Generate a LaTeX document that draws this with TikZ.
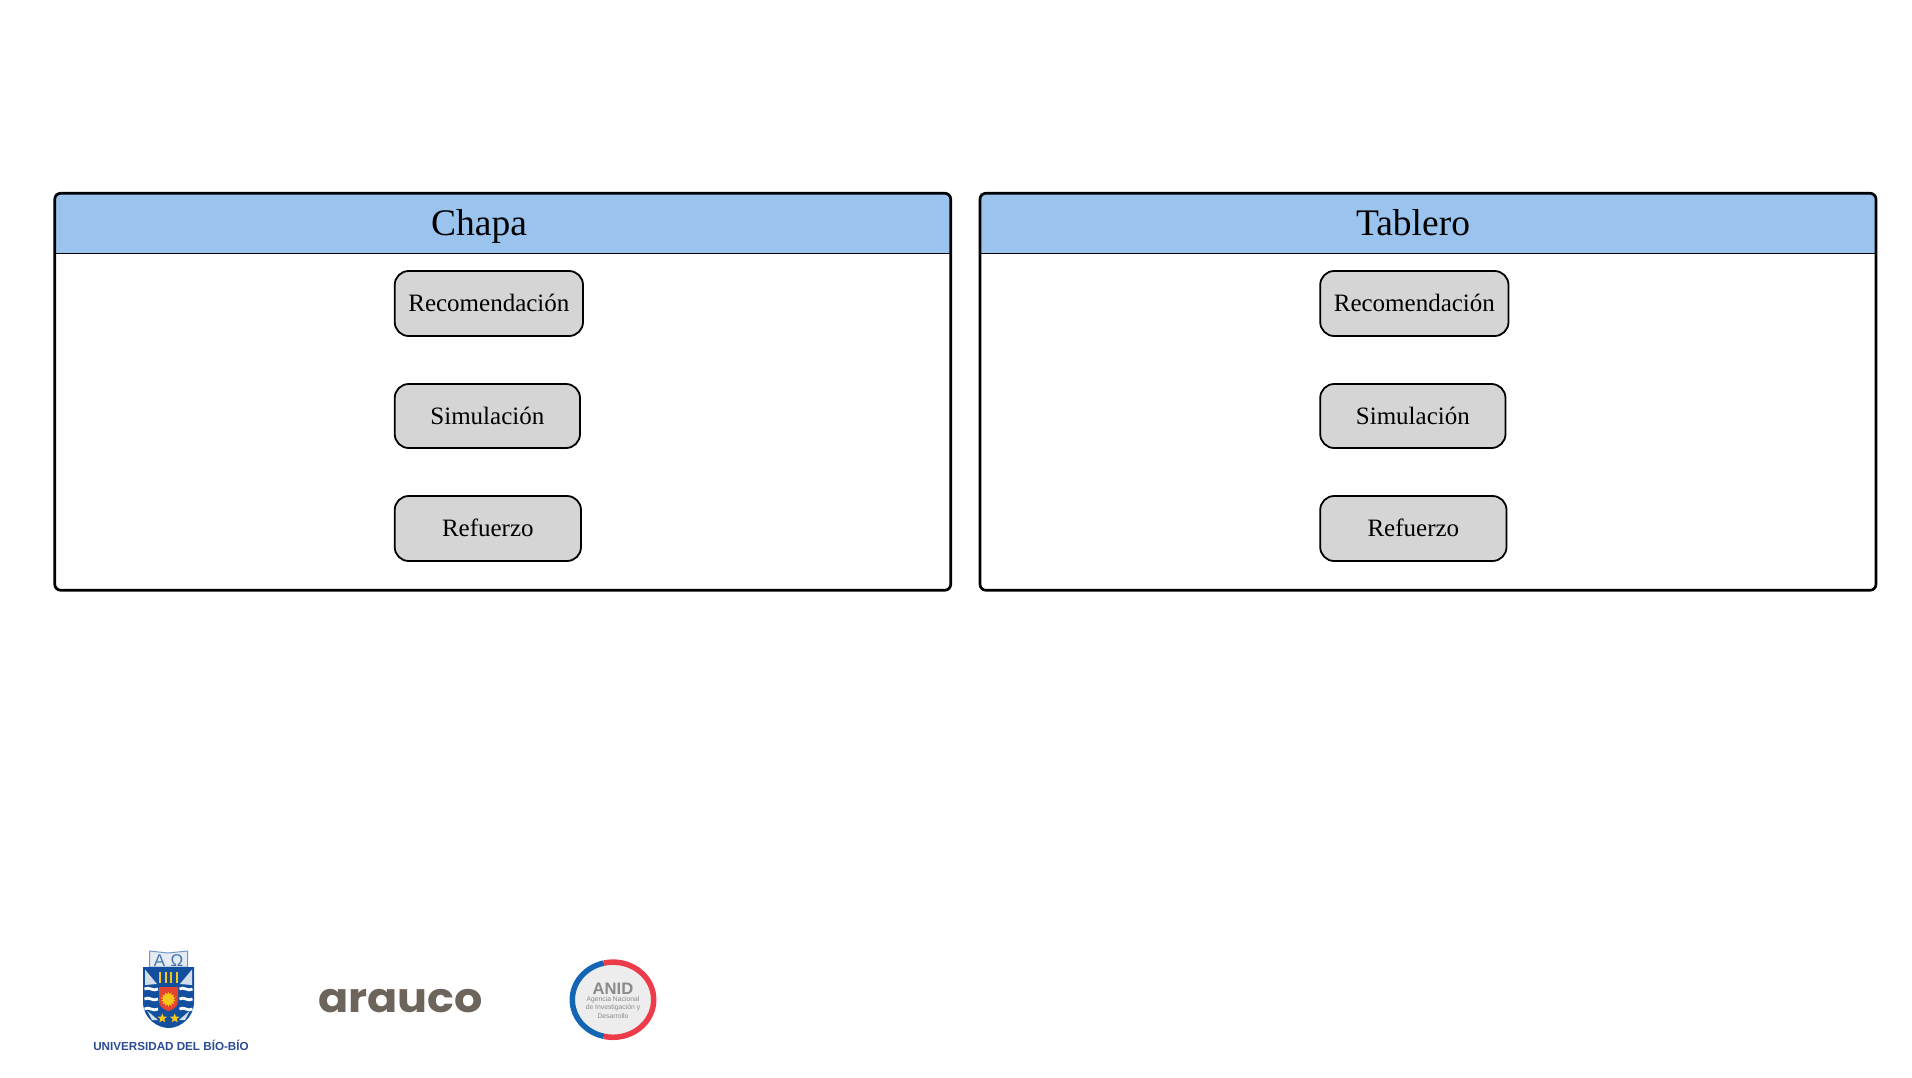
\documentclass[tikz,border=0pt]{standalone}
\usepackage{fontspec}
\setmainfont{Liberation Serif}
\newfontfamily\logofont{Liberation Sans}
\newfontfamily\araucofont{Poppins}
\usetikzlibrary{shapes.geometric,backgrounds}
\definecolor{headerblue}{HTML}{9AC3EE}
\definecolor{boxgray}{HTML}{D5D5D5}
\definecolor{ubbblue}{HTML}{12509F}
\definecolor{ubbtext}{HTML}{2B4C93}
\definecolor{ubbpale}{HTML}{D3DEE9}
\definecolor{ubbgold}{HTML}{F7C61B}
\definecolor{ubbred}{HTML}{E2452F}
\definecolor{araucogray}{HTML}{6D645C}
\definecolor{anidblue}{HTML}{1565B5}
\definecolor{anidred}{HTML}{EE3B4A}
\definecolor{anidgray}{HTML}{8A8A8A}
\tikzset{
  panel/.style={draw,line width=2.7pt,rounded corners=6pt,minimum width=896pt,minimum height=397pt,inner sep=0pt,outer sep=0pt},
  header/.style={fill=headerblue,rounded corners=6pt},
  paneltitle/.style={anchor=base,inner sep=0pt,font=\fontsize{37.5}{40}\selectfont},
  modulebox/.style={draw,fill=boxgray,line width=1.8pt,rounded corners=14pt,anchor=west,inner sep=0pt,outer sep=0pt,
    text height=16.2pt,text depth=0pt,font=\fontsize{25}{28}\selectfont},
  wave/.style={draw=white,line width=2.8pt},
  torch/.style={draw=ubbgold,line width=1.6pt},
  goldstar/.style={star,star points=5,star point ratio=2.4,fill=ubbgold,inner sep=0pt,minimum size=10pt},
  anidtext/.style={text=anidgray,inner sep=0pt,font=\logofont\fontsize{6.8}{8}\selectfont}
}
\begin{document}
\begin{tikzpicture}[x=1pt,y=-1pt]
  \useasboundingbox (0,0) rectangle (1912,1077);

  \def \Panels {
    chapa/Chapa/502.75/479/394.7,
    tablero/Tablero/1428/1413/1320.2}
  \def \Modules {
    rec/Recomendación/188.3/303.5/65,
    sim/Simulación/185.3/416/64,
    ref/Refuerzo/186.3/528.5/65}

  \foreach \id / \name / \cx / \tx / \bx in \Panels {
    \node[panel] (\id) at (\cx, 391.75) {};
    \coordinate (\id-hl) at ([yshift=-60pt]\id.north west);
    \coordinate (\id-hr) at ([yshift=-60pt]\id.north east);
    \begin{scope}[on background layer]
      \fill[header] (\id.north west) -- (\id.north east)
        [sharp corners] -- (\id-hr) -- (\id-hl) -- cycle;
    \end{scope}
    \draw[line width=1.2pt] (\id-hl) -- (\id-hr);
    \node[paneltitle] (\id-title) at (\tx, 235.5) {\name};
    \foreach \m / \txt / \bw / \y / \bh in \Modules {
      \node[modulebox,minimum width=\bw pt,minimum height=\bh pt] (\id-\m) at (\bx, \y) {\txt};
    }
  }

  % logo ubb
  \draw[draw=ubbblue!60,line width=1pt,fill=ubbpale!60] (149.5,951) -- (168,953) -- (187.5,951) -- (187.5,967) -- (149.5,967) -- cycle;
  \node[text=ubbblue!80,inner sep=0pt,font=\logofont\fontsize{17}{17}\selectfont] (ubb-alpha) at (159.5,960.5) {A};
  \node[text=ubbblue!80,inner sep=0pt,font=\logofont\fontsize{17}{17}\selectfont] (ubb-omega) at (177,960.5) {Ω};
  \fill[ubbblue] (143,967) -- (194,967) -- (194,1002) .. controls (194,1018) and (180,1028) .. (168.7,1028)
    .. controls (157,1028) and (143,1018) .. (143,1002) -- cycle;
  \fill[ubbpale] (145,969.5) -- (157,984) -- (145,985) -- cycle;
  \fill[ubbpale] (192,969.5) -- (180,984) -- (192,985) -- cycle;
  \fill[ubbpale] (147.5,1011) -- (158,1020) -- (152,1020) -- cycle;
  \fill[ubbpale] (189.5,1011) -- (179,1020) -- (185,1020) -- cycle;
  \foreach \y in {989,999,1009} {
    \draw[wave] (144.5,\y) .. controls (149,{\y-3}) and (153,{\y+3}) .. (158,\y);
    \draw[wave] (179.5,\y) .. controls (184,{\y-3}) and (188,{\y+3}) .. (192.5,\y);
  }
  \foreach \x in {160,165.7,171,176.7} {
    \draw[torch] (\x,972) -- (\x,983);
  }
  \fill[ubbred] (159,987) -- (178,987) -- (178,1002) .. controls (178,1007) and (172,1010) .. (168.5,1011)
    .. controls (165,1010) and (159,1007) .. (159,1002) -- cycle;
  \node[star,star points=14,star point ratio=1.5,fill=ubbgold,inner sep=0pt,minimum size=15pt] (ubb-sun) at (168.3,999.3) {};
  \node[goldstar] (ubb-star1) at (162.3,1018.3) {};
  \node[goldstar] (ubb-star2) at (174.7,1018.3) {};
  \node[text=ubbtext,inner sep=0pt,font=\logofont\bfseries\fontsize{11.65}{14}\selectfont] (ubb-name) at (171,1045) {UNIVERSIDAD DEL BÍO-BÍO};

  % logo arauco
  \node[text=araucogray,inner sep=0pt,anchor=base,xscale=1.085,font=\araucofont\bfseries\fontsize{41}{41}\selectfont] (arauco) at (400.5,1012) {arauco};

  % logo anid
  \begin{scope}[shift={(613,999.7)},y=1pt]
    \fill[anidgray!15] (0,0) ellipse[x radius=40.7pt,y radius=37.6pt];
    \draw[anidblue,line width=5.5pt] (103:40.7pt and 37.6pt) arc[start angle=103,end angle=257,x radius=40.7pt,y radius=37.6pt];
    \draw[anidred,line width=5.5pt] (103:40.7pt and 37.6pt) arc[start angle=103,end angle=-103,x radius=40.7pt,y radius=37.6pt];
  \end{scope}
  \node[text=anidgray,inner sep=0pt,font=\logofont\bfseries\fontsize{16.6}{18}\selectfont] (anid) at (613,989) {ANID};
  \node[anidtext] (anid-l1) at (613,1000) {Agencia Nacional};
  \node[anidtext] (anid-l2) at (613,1008) {de Investigación y};
  \node[anidtext] (anid-l3) at (613,1016) {Desarrollo};
\end{tikzpicture}
\end{document}
